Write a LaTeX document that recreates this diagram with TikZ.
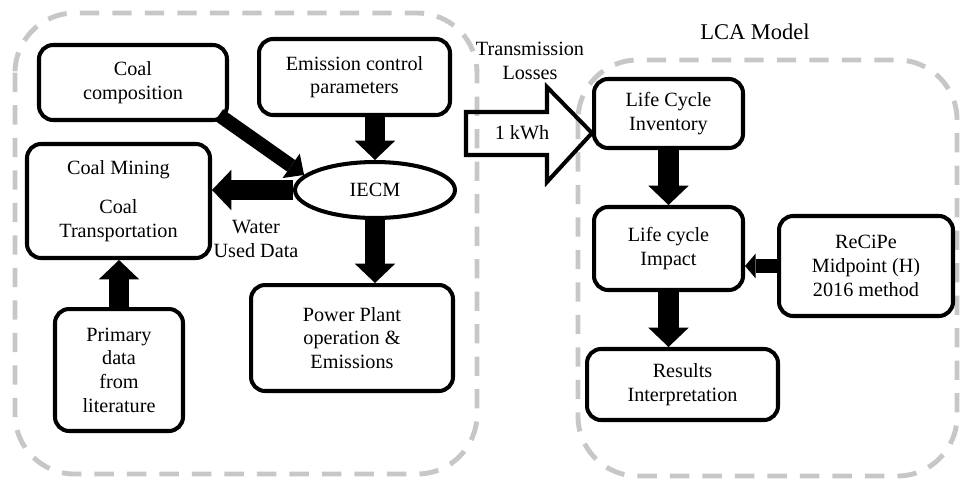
\documentclass[tikz,border=0pt]{standalone}
\usepackage{fontspec}
\setmainfont{Liberation Serif}
\usetikzlibrary{arrows.meta, positioning, shapes}

\begin{document}
\begin{tikzpicture}[
    x=0.02cm, y=-0.02cm,
    font=\fontsize{11.5}{13.5}\selectfont,
    box/.style={
        rectangle,
        rounded corners=8pt,
        draw,
        line width=2.3pt,
        align=center,
        inner sep=2pt
    },
    group/.style={
        draw=black!22,
        line width=2.8pt,
        dash pattern=on 11pt off 7.5pt,
        rounded corners=34pt
    },
    arrow/.style={-{Triangle[length=11pt, width=23pt, line width=0pt]}, line width=11.5pt},
    thinarrow/.style={-{Triangle[length=9pt, width=17pt, line width=0pt]}, line width=8pt},
    smallarrow/.style={-{Triangle[length=6pt, width=14pt, line width=0pt]}, line width=8pt}
]
\useasboundingbox (0,0) rectangle (960,478);

% dashed groups
\draw[group] (15,13) rectangle (477,474);
\draw[group] (578,60) rectangle (957,476);

\node[font=\fontsize{12.8}{15}\selectfont] (lca) at (755,32) {LCA Model};

% left part
\node[box, minimum width=3.76cm, minimum height=1.5cm] (comp) at (133,82.5) {
    Coal\\
    composition
};

\node[box, minimum width=3.82cm, minimum height=1.52cm] (emission) at (354.5,77) {
    Emission control\\
    parameters
};

\node[box, minimum width=3.66cm, minimum height=2.28cm] (mining) at (118.5,201) {
    Coal Mining\\[0.3cm]
    Coal\\
    Transportation
};

\node[ellipse, draw, line width=2.3pt, inner sep=0pt,
      minimum width=3.2cm, minimum height=1.12cm] (iecm) at (375,190) {IECM};

\node[box, minimum width=2.56cm, minimum height=2.44cm] (primary) at (119,370) {
    Primary\\
    data\\
    from\\
    literature
};

\node[box, minimum width=4.04cm, minimum height=2.12cm] (plant) at (352,338) {
    Power Plant\\
    operation \&\\
    Emissions
};

\node[align=center] (water) at (256,239) {Water\\Used Data};

% right part
\node[box, minimum width=2.98cm, minimum height=1.38cm] (inventory) at (668.5,113.5) {
    Life Cycle\\
    Inventory
};

\node[box, minimum width=2.98cm, minimum height=1.66cm] (impact) at (668.5,248.5) {
    Life cycle\\
    Impact
};

\node[box, minimum width=3.48cm, minimum height=2cm] (recipe) at (866,266) {
    ReCiPe\\
    Midpoint (H)\\
    2016 method
};

\node[box, minimum width=3.82cm, minimum height=1.42cm] (results) at (682.5,384.5) {
    Results\\
    Interpretation
};

\node[align=center] (losses) at (530,61) {Transmission\\Losses};
\node (kwh) at (522,133) {1 kWh};

% transfer arrow
\draw[line width=2.3pt] (inventory.west |- kwh) -- ++(-45,49) -- ++(0,-27) -- ++(-81,0)
    -- ++(0,-43) -- ++(81,0) -- ++(0,-25) -- cycle;

\draw[thinarrow] ([shift={(-10,-7)}]comp.south east) -- (iecm.168);
\draw[arrow] (iecm.north |- emission.south) -- (iecm.north);
\draw[arrow] (iecm.west) -- (iecm.west -| mining.east);
\draw[arrow] (iecm.south) -- (iecm.south |- plant.north);
\draw[arrow] (primary.north) -- (primary.north |- mining.south);
\draw[arrow] (inventory.south) -- (impact.north);
\draw[arrow] (impact.south) -- (impact.south |- results.north);
\draw[smallarrow] (recipe.west) -- (recipe.west -| impact.east);

\end{tikzpicture}
\end{document}
